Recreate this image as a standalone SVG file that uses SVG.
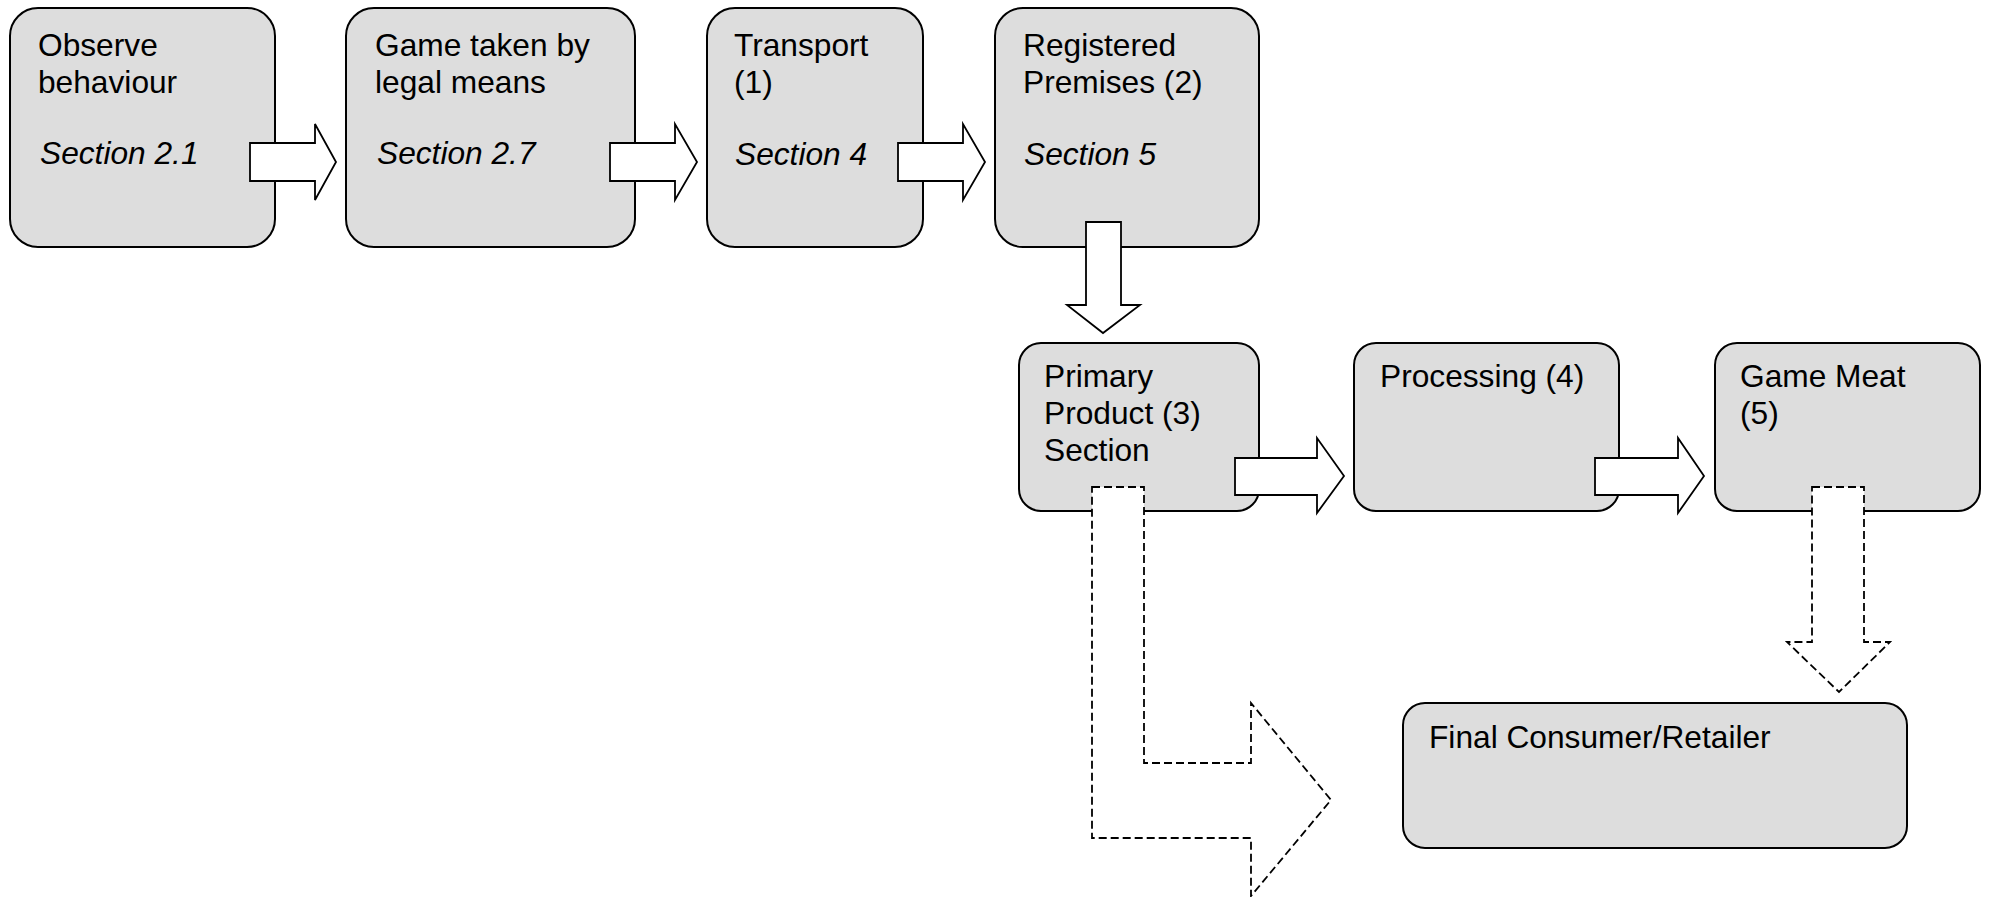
<svg xmlns="http://www.w3.org/2000/svg" width="1990" height="897" viewBox="0 0 1990 897">
<style>
.box{fill:#dddddd;stroke:#000;stroke-width:2}
.t{font-family:"Liberation Sans",Arial,sans-serif;font-size:31.7px;fill:#000}
.i{font-style:italic}
.arr{fill:#fff;stroke:#000;stroke-width:1.8;stroke-linejoin:miter}
.darr{fill:#fff;stroke:#000;stroke-width:1.8;stroke-dasharray:8 4}
</style>
<rect width="1990" height="897" fill="#fff"/>
<g id="n1"><rect class="box" x="10" y="8" width="265" height="239" rx="28"/>
<text class="t" x="38" y="56">Observe</text><text class="t" x="38" y="93">behaviour</text><text class="t i" x="40" y="164" font-size="28.5">Section 2.1</text></g>
<g id="n2"><rect class="box" x="346" y="8" width="289" height="239" rx="28"/>
<text class="t" x="375" y="56">Game taken by</text><text class="t" x="375" y="93">legal means</text><text class="t i" x="377" y="164" font-size="28.5">Section 2.7</text></g>
<g id="n3"><rect class="box" x="707" y="8" width="216" height="239" rx="28"/>
<text class="t" x="734" y="56">Transport</text><text class="t" x="734" y="93">(1)</text><text class="t i" x="735" y="165" font-size="32.5">Section 4</text></g>
<g id="n4"><rect class="box" x="995" y="8" width="264" height="239" rx="28"/>
<text class="t" x="1023" y="56">Registered</text><text class="t" x="1023" y="93">Premises (2)</text><text class="t i" x="1024" y="165" font-size="32.5">Section 5</text></g>
<g id="n5"><rect class="box" x="1019" y="343" width="240" height="168" rx="22"/>
<text class="t" x="1044" y="387">Primary</text><text class="t" x="1044" y="424">Product (3)</text><text class="t" x="1044" y="461">Section</text></g>
<g id="n6"><rect class="box" x="1354" y="343" width="265" height="168" rx="22"/>
<text class="t" x="1380" y="387">Processing (4)</text></g>
<g id="n7"><rect class="box" x="1715" y="343" width="265" height="168" rx="22"/>
<text class="t" x="1740" y="387">Game Meat</text><text class="t" x="1740" y="424">(5)</text></g>
<g id="n8"><rect class="box" x="1403" y="703" width="504" height="145" rx="22"/>
<text class="t" x="1429" y="748">Final Consumer/Retailer</text></g>
<g id="connectors">
<path class="arr" d="M250,143 H315 V124 L336,162 L315,200 V181 H250 Z"/>
<path class="arr" d="M610,143 H675 V124 L697,162 L675,200 V181 H610 Z"/>
<path class="arr" d="M898,143 H963 V124 L985,162 L963,200 V181 H898 Z"/>
<path class="arr" d="M1086,222 H1121 V305 H1140 L1103,333 L1067,305 H1086 Z"/>
<path class="arr" d="M1235,458 H1317 V438 L1344,476 L1317,513 V495 H1235 Z"/>
<path class="arr" d="M1595,458 H1678 V438 L1704,476 L1678,513 V495 H1595 Z"/>
<path class="darr" d="M1812,487 H1864 V642 H1890 L1839,692 L1787,642 H1812 Z"/>
<path class="darr" d="M1092,487 H1144 V763 H1251 V703 L1331,800 L1251,896 V838 H1092 Z"/>
</g>
</svg>
